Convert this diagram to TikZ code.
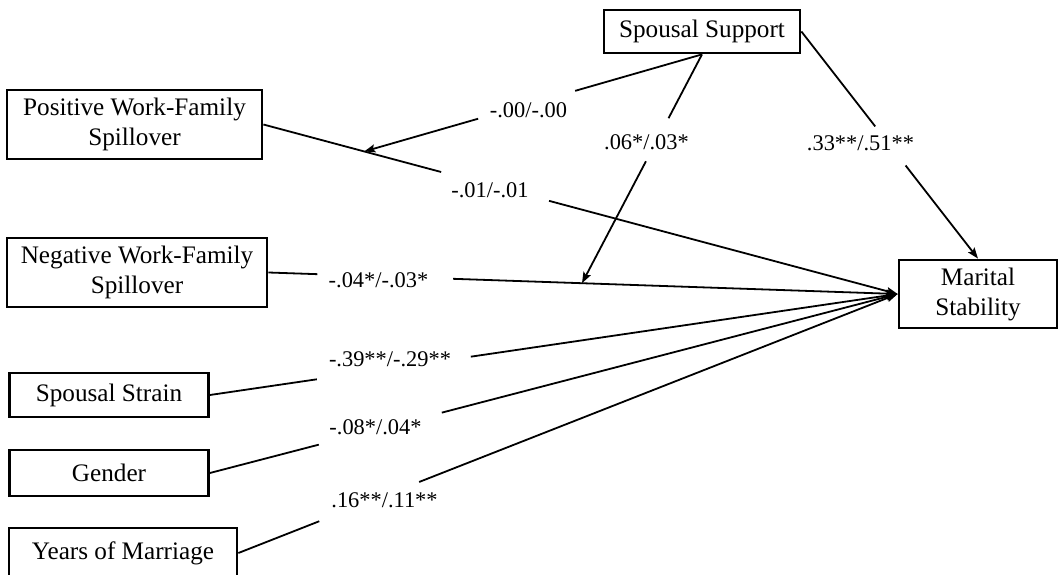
\documentclass[tikz,border=0pt]{standalone}
\usepackage{fontspec}
\setmainfont{Liberation Serif}
\usetikzlibrary{arrows.meta}
\tikzset{
  box/.style={draw, line width=2.8pt, inner sep=0pt, align=center,
    font=\fontsize{25.2}{30}\selectfont},
  lab/.style={font=\fontsize{22.4}{26}\selectfont, inner sep=0pt},
  conn/.style={line width=1.8pt},
  arr/.style={conn, -{Stealth[length=11pt,width=8pt,inset=2pt]}},
}
\begin{document}
\begin{tikzpicture}[x=1pt,y=-1pt]
\useasboundingbox (0,0) rectangle (1061,575);
% boxes
\node[box, minimum width=255pt, minimum height=69pt] (pos) at (134.5,124.5) {Positive Work-Family\\Spillover};
\node[box, minimum width=260pt, minimum height=69pt] (neg) at (137,272.5) {Negative Work-Family\\Spillover};
\node[box, minimum width=199pt, minimum height=44pt] (strain) at (109,395) {Spousal Strain};
\node[box, minimum width=199pt, minimum height=46pt] (gender) at (109,473) {Gender};
\node[box, minimum width=228pt, minimum height=50pt] (years) at (123,553) {Years of Marriage};
\node[box, minimum width=196pt, minimum height=43pt] (support) at (702,31.5) {Spousal Support};
\node[box, minimum width=158pt, minimum height=68pt] (ms) at (978,294) {Marital\\Stability};
% helper coordinates on the connectors
\path (pos.east) -- coordinate[pos=0.159] (m1) coordinate[pos=0.2803] (g1a) coordinate[pos=0.4504] (g1b) (ms.west);
\path (neg.east) -- coordinate[pos=0.4984] (m2) coordinate[pos=0.0778] (g2a) coordinate[pos=0.2937] (g2b) (ms.west);
\path (strain.east) -- coordinate[pos=0.1555] (g3a) coordinate[pos=0.3794] (g3b) (ms.west);
\path (gender.east) -- coordinate[pos=0.1584] (g4a) coordinate[pos=0.3372] (g4b) (ms.west);
\path (years.east) -- coordinate[pos=0.1227] (g5a) coordinate[pos=0.2742] (g5b) (ms.west);
\path (support.east) -- coordinate[pos=0.418] (g6a) coordinate[pos=0.590] (g6b) (ms.north);
\path (support.south) -- coordinate[pos=0.3757] (g7a) coordinate[pos=0.6627] (g7b) (m1);
\path (support.south) -- coordinate[pos=0.279] (g8a) coordinate[pos=0.467] (g8b) (m2);
% connectors
\draw[conn] (pos.east) -- (g1a);   \draw[arr] (g1b) -- (ms.west);
\draw[conn] (neg.east) -- (g2a);   \draw[arr] (g2b) -- (ms.west);
\draw[conn] (strain.east) -- (g3a); \draw[arr] (g3b) -- (ms.west);
\draw[conn] (gender.east) -- (g4a); \draw[arr] (g4b) -- (ms.west);
\draw[conn] (years.east) -- (g5a);  \draw[arr] (g5b) -- (ms.west);
\draw[conn] (support.east) -- (g6a); \draw[arr] (g6b) -- (ms.north);
\draw[conn] (support.south) -- (g7a); \draw[arr] (g7b) -- (m1);
\draw[conn] (support.south) -- (g8a); \draw[arr] (g8b) -- (m2);
% labels
\node[lab] (l1) at (528.5,110) {-.00/-.00};
\node[lab] (l2) at (490,190) {-.01/-.01};
\node[lab] (l3) at (378.5,280) {-.04*/-.03*};
\node[lab] (l4) at (646.5,142) {.06*/.03*};
\node[lab] (l5) at (860.5,143) {.33**/.51**};
\node[lab] (l6) at (390,359) {-.39**/-.29**};
\node[lab] (l7) at (375.5,427) {-.08*/.04*};
\node[lab] (l8) at (384.5,500.7) {.16**/.11**};
\end{tikzpicture}
\end{document}
